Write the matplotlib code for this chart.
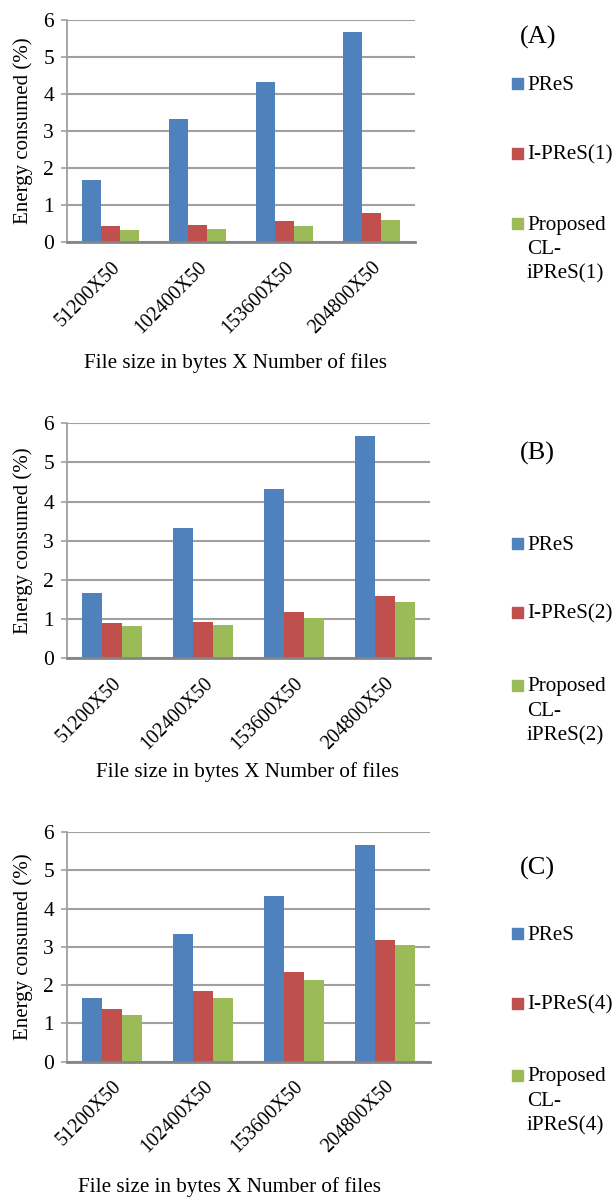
import matplotlib
matplotlib.use('Agg')
import matplotlib.pyplot as plt
import numpy as np
from matplotlib.patches import Rectangle

plt.rcParams['font.family'] = ['Liberation Serif', 'DejaVu Serif']

categories = ['51200X50', '102400X50', '153600X50', '204800X50']
pres = [1.67, 3.33, 4.33, 5.67]
ipres_1 = [0.44, 0.46, 0.57, 0.78]
cl_ipres_1 = [0.33, 0.36, 0.44, 0.61]
ipres_2 = [0.91, 0.93, 1.17, 1.58]
cl_ipres_2 = [0.82, 0.85, 1.03, 1.45]
ipres_4 = [1.38, 1.84, 2.33, 3.18]
cl_ipres_4 = [1.23, 1.66, 2.14, 3.04]
panel_names = ['(A)', '(B)', '(C)']
series_labels = [
    ['PReS', 'I-PReS(1)', 'Proposed\nCL-\niPReS(1)'],
    ['PReS', 'I-PReS(2)', 'Proposed\nCL-\niPReS(2)'],
    ['PReS', 'I-PReS(4)', 'Proposed\nCL-\niPReS(4)'],
]
panel_data = [
    [pres, ipres_1, cl_ipres_1],
    [pres, ipres_2, cl_ipres_2],
    [pres, ipres_4, cl_ipres_4],
]

colors = ['#4F81BD', '#C0504D', '#9BBB59']

W, H = 614, 1198
fig = plt.figure(figsize=(W / 100, H / 100), dpi=100)

# pixel boxes: left, right, top, bottom
boxes = [(67, 415, 19.7, 242.3), (67, 430, 423.3, 658.3), (67, 430, 832, 1061.7)]
xlabel_pos = [(236, 363), (248, 772), (230, 1187)]
title_pos = [(538, 37), (537, 453), (537, 868)]
legend_y = [[83, 153, 223], [543, 612, 685], [933, 1003, 1075]]

for p in range(3):
    l, r, t, b = boxes[p]
    ax = fig.add_axes([l / W, 1 - b / H, (r - l) / W, (b - t) / H])
    x = np.arange(len(categories))
    w = 0.22
    for i, vals in enumerate(panel_data[p]):
        ax.bar(x + (i - 1) * w, vals, w, color=colors[i], zorder=3)
    ax.set_xlim(-0.5, len(categories) - 0.5)
    ax.set_ylim(0, 6)
    ax.set_yticks(range(7))
    ax.yaxis.grid(True, color='#A0A0A0', linewidth=1.5, zorder=0)
    for s in ['top', 'right']:
        ax.spines[s].set_visible(False)
    ax.spines['left'].set_color('#A0A0A0')
    ax.spines['left'].set_linewidth(1.3)
    ax.spines['bottom'].set_color('#858585')
    ax.spines['bottom'].set_linewidth(2)
    ax.spines['bottom'].set_zorder(4)
    ax.tick_params(axis='y', length=4.3, width=1.2, color='#A0A0A0', labelsize=15.5, pad=5)
    ax.tick_params(axis='x', length=0, labelsize=14.3, pad=11)
    ax.set_xticks(x)
    ax.set_xticklabels(categories, rotation=45, ha='right', va='top', rotation_mode='anchor')
    ax.set_ylabel('Energy consumed (%)', fontsize=15, labelpad=7)

    fig.text(xlabel_pos[p][0] / W, 1 - xlabel_pos[p][1] / H,
             'File size in bytes X Number of files', fontsize=15.2,
             ha='center', va='center')
    fig.text(title_pos[p][0] / W, 1 - title_pos[p][1] / H, panel_names[p],
             fontsize=19, ha='center', va='center')
    for i, lab in enumerate(series_labels[p]):
        yy = legend_y[p][i]
        fig.add_artist(Rectangle((512 / W, 1 - (yy + 5.5) / H), 11 / W, 11 / H,
                                 transform=fig.transFigure, color=colors[i]))
        fig.text(527 / W, 1 - (yy - 7.5) / H, lab, fontsize=15.2, ha='left', va='top',
                 linespacing=1.38)

fig.savefig('out.png', dpi=100)
